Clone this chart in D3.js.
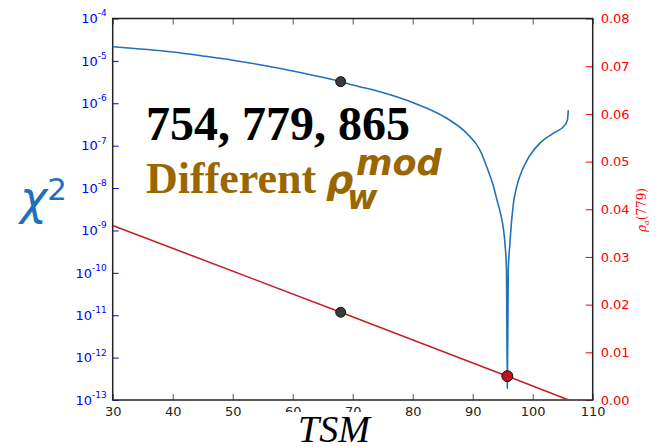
<!DOCTYPE html>
<html>
<head>
<meta charset="utf-8">
<script src="https://cdn.jsdelivr.net/npm/d3@7"></script>
<style>
  body { margin: 0; background: #fff; }
  svg { display: block; }
</style>
</head>
<body>
<div id="chart"></div>
<script>
// chi^2 curve (left, log axis)
const tsm = [30, 40, 45, 50, 55, 60, 65, 68, 70, 74.55, 80.1, 85.67, 89, 91.2, 92.4, 93.4, 94.05, 94.7, 95.1, 95.4, 95.63,
    95.77, 95.93, 96.18, 96.5, 96.8, 97.2, 97.6, 98.3, 99, 101.2, 103.4, 105.4, 105.8, 105.93];
const chi2 = [2.16e-5, 1.62e-5, 1.31e-5, 1.04e-5, 7.9e-6, 5.8e-6, 4.1e-6, 3.24e-6, 2.7e-6, 1.87e-6, 1.03e-6, 4.43e-7, 1.96e-7,
    7.9e-8, 3.0e-8, 1.18e-8, 5.2e-9, 2.3e-9, 1.14e-9, 4.5e-10, 1.17e-10,
    1.9e-13, 1.17e-10, 4.5e-10, 1.78e-9, 4.5e-9, 8.9e-9, 1.48e-8, 2.75e-8, 4.4e-8, 1.15e-7, 1.95e-7, 3.1e-7, 4.1e-7, 6.9e-7];

// rho_a(779) line (right, linear axis)
const rhoTsm = [30, 68, 95.77, 106];
const rho = [0.0366, 0.0184, 0.0050, 0.0];

// highlighted points
const greyTsm = 68;
const redTsm = 95.77;

const xTicks = [30, 40, 50, 60, 70, 80, 90, 100, 110];
const leftExps = [-4, -5, -6, -7, -8, -9, -10, -11, -12, -13];
const rightTicks = [0, 0.01, 0.02, 0.03, 0.04, 0.05, 0.06, 0.07, 0.08];

const width = 660, height = 447;
const margin = { top: 18.5, right: 67.3, bottom: 47, left: 112.7 };

const svg = d3.select("#chart").append("svg")
    .attr("width", width)
    .attr("height", height);

const x = d3.scaleLinear().domain([30, 110]).range([margin.left, width - margin.right]);
const yL = d3.scaleLog().domain([1e-13, 1e-4]).range([height - margin.bottom, margin.top]);
const yR = d3.scaleLinear().domain([0, 0.08]).range([height - margin.bottom, margin.top]);

svg.append("clipPath").attr("id", "plot")
    .append("rect")
    .attr("x", margin.left).attr("y", margin.top)
    .attr("width", width - margin.left - margin.right)
    .attr("height", height - margin.top - margin.bottom);

// bottom axis
const bottomAxis = svg.append("g")
    .attr("transform", `translate(0,${height - margin.bottom})`)
    .call(d3.axisBottom(x).tickValues(xTicks).tickSize(-6).tickPadding(7).tickFormat(d3.format("d")));
bottomAxis.select(".domain").remove();
bottomAxis.selectAll("line").attr("stroke", "#555");
bottomAxis.selectAll("text").attr("fill", "#222").attr("font-size", 13).attr("font-family", "DejaVu Sans");

// top axis ticks
const topAxis = svg.append("g")
    .attr("transform", `translate(0,${margin.top})`)
    .call(d3.axisTop(x).tickValues(xTicks).tickSize(-6).tickFormat(""));
topAxis.select(".domain").remove();
topAxis.selectAll("line").attr("stroke", "#555");

// left log axis
const leftAxis = svg.append("g")
    .attr("transform", `translate(${margin.left},0)`)
    .call(d3.axisLeft(yL).tickValues(leftExps.map(e => Math.pow(10, e))).tickSize(-6).tickPadding(6).tickFormat(""));
leftAxis.select(".domain").remove();
leftAxis.selectAll("line").attr("stroke", "#0000ff");
leftAxis.selectAll(".tick text").each(function (d) {
    const t = d3.select(this)
        .attr("fill", "#0000ff")
        .attr("font-size", 13)
        .attr("font-family", "DejaVu Sans")
        .attr("dy", "0.32em");
    t.append("tspan").text("10");
    t.append("tspan")
        .attr("font-size", 9)
        .attr("dy", "-0.75em")
        .text(Math.round(Math.log10(d)));
});

// right axis
const rightAxis = svg.append("g")
    .attr("transform", `translate(${width - margin.right},0)`)
    .call(d3.axisRight(yR).tickValues(rightTicks).tickSize(-7).tickPadding(8).tickFormat(d3.format(".2f")));
rightAxis.select(".domain").remove();
rightAxis.selectAll("line").attr("stroke", "#ff0000");
rightAxis.selectAll("text").attr("fill", "#ff0000").attr("font-size", 13).attr("font-family", "DejaVu Sans");

// frame
svg.append("rect")
    .attr("x", margin.left).attr("y", margin.top)
    .attr("width", width - margin.left - margin.right)
    .attr("height", height - margin.top - margin.bottom)
    .attr("fill", "none")
    .attr("stroke", "#222")
    .attr("stroke-width", 1.5);

const plot = svg.append("g").attr("clip-path", "url(#plot)");

// red rho line
plot.append("path")
    .datum(rhoTsm.map((t, i) => [t, rho[i]]))
    .attr("fill", "none")
    .attr("stroke", "#c4202a")
    .attr("stroke-width", 1.6)
    .attr("d", d3.line().x(d => x(d[0])).y(d => yR(d[1])));

// blue chi2 curve
plot.append("path")
    .datum(tsm.map((t, i) => [t, chi2[i]]))
    .attr("fill", "none")
    .attr("stroke", "#2470b8")
    .attr("stroke-width", 1.6)
    .attr("d", d3.line().x(d => x(d[0])).y(d => yL(d[1])).curve(d3.curveMonotoneX));

// markers
const chiAt = t => chi2[tsm.indexOf(t)];
const rhoAt = t => rho[rhoTsm.indexOf(t)];

plot.append("circle")
    .attr("cx", x(greyTsm)).attr("cy", yL(chiAt(greyTsm)))
    .attr("r", 5).attr("fill", "#3a3a3a").attr("stroke", "#111");
plot.append("circle")
    .attr("cx", x(greyTsm)).attr("cy", yR(rhoAt(greyTsm)))
    .attr("r", 5).attr("fill", "#3a3a3a").attr("stroke", "#111");
plot.append("circle")
    .attr("cx", x(redTsm)).attr("cy", yR(rhoAt(redTsm)))
    .attr("r", 5.5).attr("fill", "#c0101c").attr("stroke", "#111");

// annotations
svg.append("text")
    .attr("x", 146).attr("y", 140)
    .attr("font-family", "Liberation Serif")
    .attr("font-weight", "bold")
    .attr("font-size", 48)
    .attr("fill", "#000")
    .text("754, 779, 865");

const diff = svg.append("g").attr("fill", "#9a6600").attr("font-weight", "bold");
diff.append("text")
    .attr("x", 146).attr("y", 193)
    .attr("font-family", "Liberation Serif")
    .attr("font-size", 44)
    .text("Different");
diff.append("text")
    .attr("x", 326).attr("y", 193)
    .attr("font-family", "DejaVu Sans")
    .attr("font-style", "italic")
    .attr("font-size", 38)
    .text("ρ");
diff.append("text")
    .attr("x", 347).attr("y", 209)
    .attr("font-family", "DejaVu Sans")
    .attr("font-style", "italic")
    .attr("font-size", 33)
    .text("w");
diff.append("text")
    .attr("x", 356).attr("y", 175)
    .attr("font-family", "DejaVu Sans")
    .attr("font-style", "italic")
    .attr("font-size", 35)
    .text("mod");

// left axis label
const chiLabel = svg.append("text")
    .attr("x", 20).attr("y", 214)
    .attr("fill", "#1f6fbf")
    .attr("font-family", "DejaVu Sans");
chiLabel.append("tspan").attr("font-style", "italic").attr("font-size", 46).text("χ");
chiLabel.append("tspan").attr("font-size", 31).attr("dy", -14).text("2");

// bottom axis label with white box
svg.append("rect")
    .attr("x", 282).attr("y", 412).attr("width", 106).attr("height", 35)
    .attr("fill", "#fff");
svg.append("text")
    .attr("x", 334).attr("y", 442)
    .attr("text-anchor", "middle")
    .attr("font-family", "Liberation Serif")
    .attr("font-style", "italic")
    .attr("font-size", 38)
    .attr("fill", "#000")
    .text("TSM");

// right axis label
const rLabel = svg.append("text")
    .attr("transform", "translate(646,210) rotate(-90)")
    .attr("text-anchor", "middle")
    .attr("fill", "#ff0000")
    .attr("font-family", "DejaVu Serif")
    .attr("font-size", 12);
rLabel.append("tspan").attr("font-style", "italic").text("ρ");
rLabel.append("tspan").attr("font-style", "italic").attr("font-size", 8).attr("dy", 3).text("a");
rLabel.append("tspan").attr("dy", -3).text("(779)");
</script>
</body>
</html>
